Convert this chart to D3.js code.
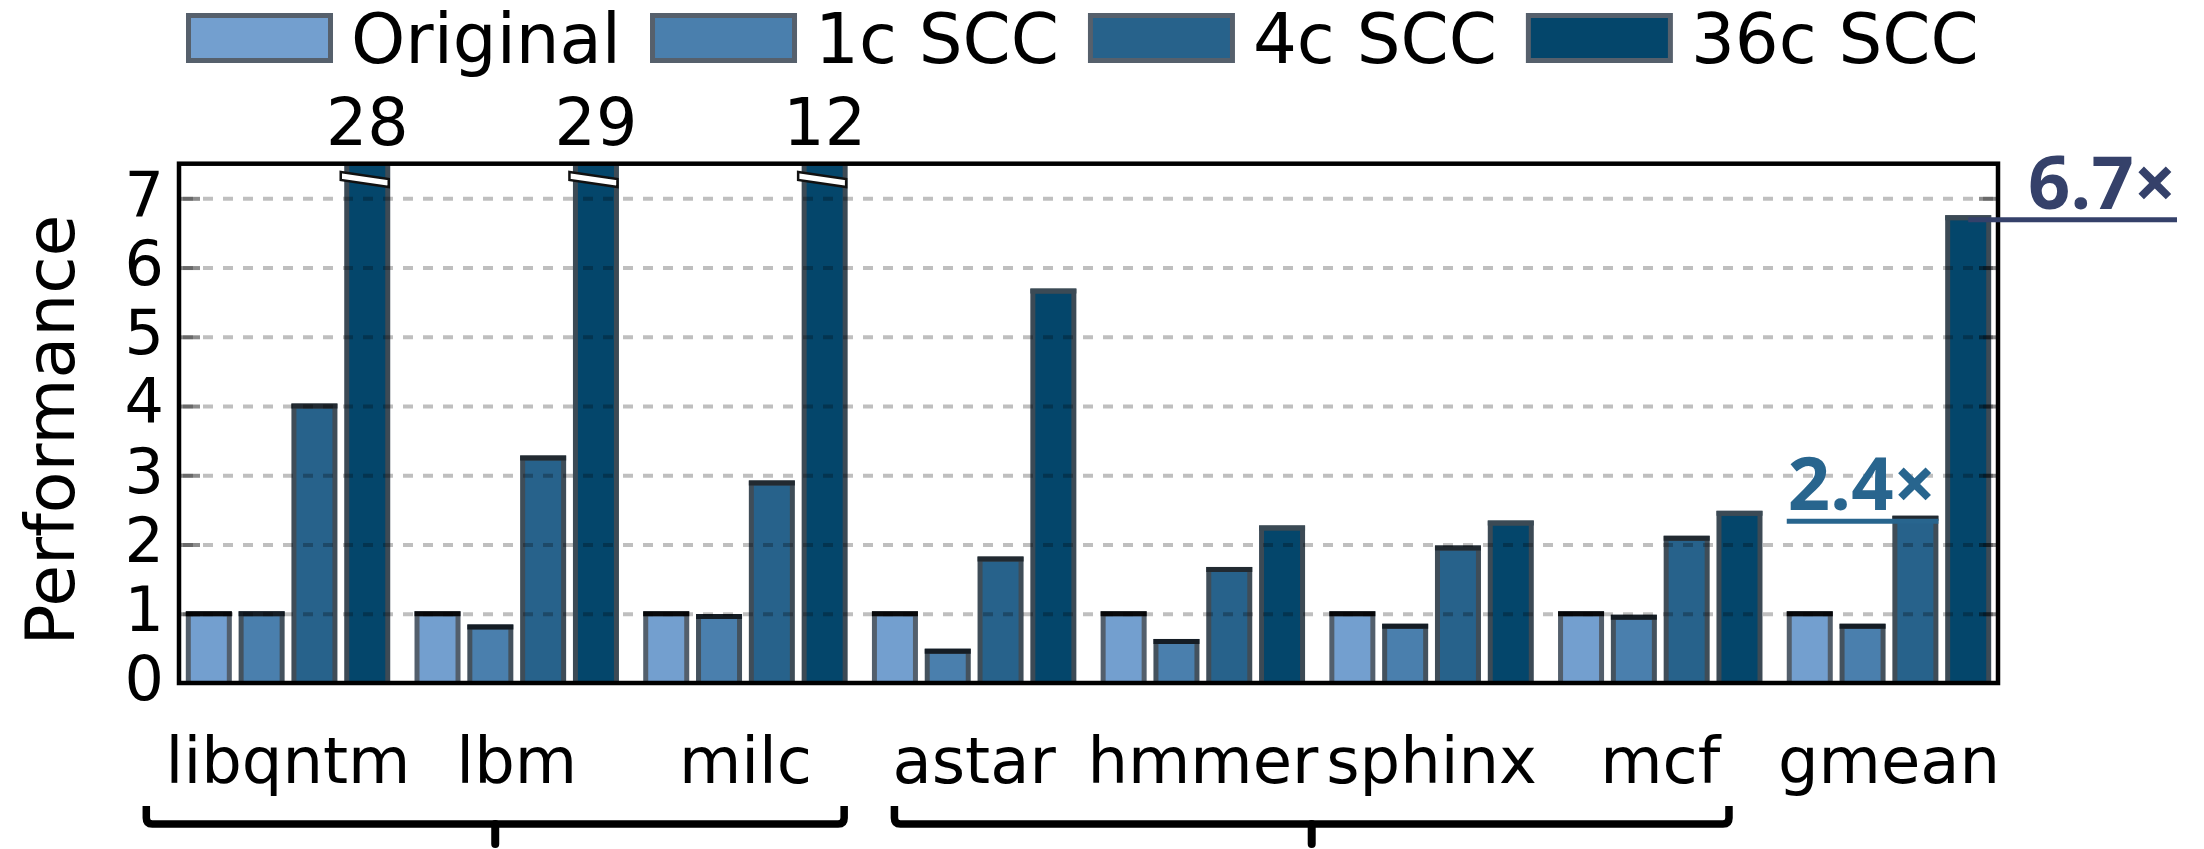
<!DOCTYPE html>
<html>
<head>
<meta charset="utf-8">
<script src="https://cdn.jsdelivr.net/npm/d3@7"></script>
<style>
  html, body { margin: 0; padding: 0; background: #ffffff; }
  svg { display: block; }
</style>
</head>
<body>
<svg id="chart" width="2204" height="849"></svg>
<script>
// ---------------- data ----------------
const categories = ["libqntm", "lbm", "milc", "astar", "hmmer", "sphinx", "mcf", "gmean"];
const series = ["Original", "1c SCC", "4c SCC", "36c SCC"];
const original = [1.00, 1.00, 1.00, 1.00, 1.00, 1.00, 1.00, 1.00];
const scc1 = [1.00, 0.81, 0.96, 0.46, 0.60, 0.82, 0.95, 0.82];
const scc4 = [4.00, 3.25, 2.89, 1.79, 1.64, 1.95, 2.09, 2.38];
const scc36 = [28, 29, 12, 5.66, 2.24, 2.31, 2.45, 6.72];
const yTicks = [0, 1, 2, 3, 4, 5, 6, 7];
const brackets = [["libqntm", "milc"], ["astar", "mcf"]];
const values = [original, scc1, scc4, scc36];

// ---------------- styles ----------------
const fills = ["#739fcf", "#4a7fad", "#27628b", "#04466b"];
const sideStroke = ["#535f6c", "#44525e", "#3f4d58", "#3c4a55"];
const topStroke = ["#08090b", "#151d25", "#222a31", "#3b4a55"];
const font = "'DejaVu Sans', sans-serif";

const svg = d3.select("#chart");
const L = 179, R = 1998, T = 163.7, B = 683;

const x0 = d3.scaleBand().domain(categories).range([L, R]).paddingInner(0.128).paddingOuter(0.0407);
const x1 = d3.scaleBand().domain(series).range([0, x0.bandwidth()]).paddingInner(0.2235);
const y = d3.scaleLinear().domain([0, 7.5]).range([B, T]);

const rows = [];
categories.forEach((c, i) => series.forEach((s, j) => rows.push({c, s, j, v: values[j][i], i})));

// clip
svg.append("defs").append("clipPath").attr("id", "plotclip")
  .append("rect").attr("x", L).attr("y", T).attr("width", R - L).attr("height", B - T);

const plotG = svg.append("g").attr("clip-path", "url(#plotclip)");

// bars
plotG.selectAll("rect.bar").data(rows).join("rect")
  .attr("class", "bar")
  .attr("x", d => x0(d.c) + x1(d.s))
  .attr("y", d => y(d.v))
  .attr("width", x1.bandwidth())
  .attr("height", d => B - y(d.v) + 4)
  .attr("fill", d => fills[d.j])
  .attr("stroke", d => sideStroke[d.j])
  .attr("stroke-width", 5);

plotG.selectAll("line.bartop").data(rows).join("line")
  .attr("class", "bartop")
  .attr("x1", d => x0(d.c) + x1(d.s) - 2.5)
  .attr("x2", d => x0(d.c) + x1(d.s) + x1.bandwidth() + 2.5)
  .attr("y1", d => y(d.v))
  .attr("y2", d => y(d.v))
  .attr("stroke", d => topStroke[d.j])
  .attr("stroke-width", 5);

// gridlines (semi-transparent so they darken bars)
const grid = svg.append("g").attr("transform", `translate(${L},0)`)
  .call(d3.axisLeft(y).tickValues(yTicks.filter(t => t > 0)).tickSize(-(R - L)).tickFormat(""));
grid.select(".domain").remove();
grid.selectAll("line").attr("stroke", "#000").attr("stroke-opacity", 0.25)
  .attr("stroke-width", 4).attr("stroke-dasharray", "10,10").attr("stroke-dashoffset", 16);

// inner tick marks on both sides
const tl = svg.append("g").attr("transform", `translate(${L},0)`)
  .call(d3.axisLeft(y).tickValues(yTicks.filter(t => t > 0)).tickSize(-21).tickFormat(""));
const tr = svg.append("g").attr("transform", `translate(${R},0)`)
  .call(d3.axisRight(y).tickValues(yTicks.filter(t => t > 0)).tickSize(-19).tickFormat(""));
[tl, tr].forEach(g => {
  g.select(".domain").remove();
  g.selectAll("line").attr("stroke", "#000").attr("stroke-opacity", 0.45).attr("stroke-width", 4);
});

// break markers for overflowing bars
const over = rows.filter(d => d.v > y.domain()[1]);
over.forEach(d => {
  const bx = x0(d.c) + x1(d.s);
  const bw = x1.bandwidth();
  const yc = y(7.25);
  const pts = [[bx - 6, yc - 9], [bx + bw + 1, yc - 2], [bx + bw + 1, yc + 6], [bx - 6, yc - 1]];
  svg.append("polygon")
    .attr("points", pts.map(p => p.join(",")).join(" "))
    .attr("fill", "#ffffff").attr("stroke", "#111").attr("stroke-width", 2.5)
    .attr("stroke-linejoin", "miter");
  svg.append("text")
    .attr("x", bx + bw / 2).attr("y", 145)
    .attr("text-anchor", "middle")
    .attr("font-family", font).attr("font-size", 65).attr("fill", "#000")
    .text(d.v);
});

// frame
svg.append("rect").attr("x", L).attr("y", T).attr("width", R - L).attr("height", B - T)
  .attr("fill", "none").attr("stroke", "#000").attr("stroke-width", 4.5);

// y axis labels
const ya = svg.append("g").attr("transform", `translate(${L},0)`)
  .call(d3.axisLeft(y).tickValues(yTicks).tickSize(0).tickPadding(15));
ya.select(".domain").remove();
ya.selectAll("text").attr("font-family", font).attr("font-size", 62).attr("fill", "#000").attr("dy", "0.27em");

// y title
svg.append("text")
  .attr("transform", "translate(74,430) rotate(-90)")
  .attr("text-anchor", "middle")
  .attr("font-family", font).attr("font-size", 68).attr("fill", "#000")
  .text("Performance");

// category labels
svg.append("g").selectAll("text").data(categories).join("text")
  .attr("x", d => x0(d) + x0.bandwidth() / 2)
  .attr("y", 783)
  .attr("text-anchor", "middle")
  .attr("font-family", font).attr("font-size", 64).attr("fill", "#000")
  .text(d => d);

// brackets
const bOff = [[-42, -1], [20, -31]];
brackets.forEach((b, k) => {
  const xa = x0(b[0]) + bOff[k][0];
  const xb = x0(b[1]) + x0.bandwidth() + bOff[k][1];
  const xc = (xa + xb) / 2;
  const yl = 824, yt = 806, r = 6;
  const p = d3.path();
  p.moveTo(xa, yt); p.lineTo(xa, yl - r);
  p.quadraticCurveTo(xa, yl, xa + r, yl);
  p.lineTo(xb - r, yl);
  p.quadraticCurveTo(xb, yl, xb, yl - r);
  p.lineTo(xb, yt);
  svg.append("path").attr("d", p.toString()).attr("fill", "none")
    .attr("stroke", "#000").attr("stroke-width", 7.5).attr("stroke-linejoin", "round").attr("stroke-linecap", "butt");
  svg.append("line").attr("x1", xc).attr("x2", xc).attr("y1", yl).attr("y2", 844)
    .attr("stroke", "#000").attr("stroke-width", 8).attr("stroke-linecap", "round");
});

// annotations on gmean
const gi = categories.length - 1;
const gName = categories[gi];
const x36 = x0(gName) + x1(series[3]);
const y36 = y(scc36[gi]);
svg.append("line").attr("x1", x36 + x1.bandwidth() / 2).attr("x2", 2177)
  .attr("y1", y36 + 2).attr("y2", y36 + 2)
  .attr("stroke", "#35416a").attr("stroke-width", 5);
svg.append("text").attr("x", 2028).attr("y", y36 - 9)
  .attr("font-family", "'Open Sans', sans-serif").attr("font-weight", 700)
  .attr("font-size", 74).attr("fill", "#35416a")
  .text(scc36[gi].toFixed(1) + "\u00d7");

const xo = x0(gName) + x1(series[0]) - 2.5;
const x4 = x0(gName) + x1(series[2]) + x1.bandwidth() + 2.5;
const y4 = y(scc4[gi]);
svg.append("line").attr("x1", xo).attr("x2", x4)
  .attr("y1", y4 + 3).attr("y2", y4 + 3)
  .attr("stroke", "#28658e").attr("stroke-width", 5);
svg.append("text").attr("x", xo + 1).attr("y", y4 - 8)
  .attr("font-family", "'Open Sans', sans-serif").attr("font-weight", 700)
  .attr("font-size", 74).attr("fill", "#28658e")
  .text(scc4[gi].toFixed(1) + "\u00d7");

// legend
let lx = 186;
series.forEach((s, j) => {
  svg.append("rect").attr("x", lx + 2.5).attr("y", 15.5).attr("width", 142).attr("height", 45)
    .attr("fill", fills[j]).attr("stroke", "#56606c").attr("stroke-width", 5);
  const t = svg.append("text").attr("x", lx + 165).attr("y", 63)
    .attr("font-family", font).attr("font-size", 69).attr("fill", "#000").text(s);
  lx = lx + 165 + t.node().getComputedTextLength() + 29;
});
</script>
</body>
</html>
